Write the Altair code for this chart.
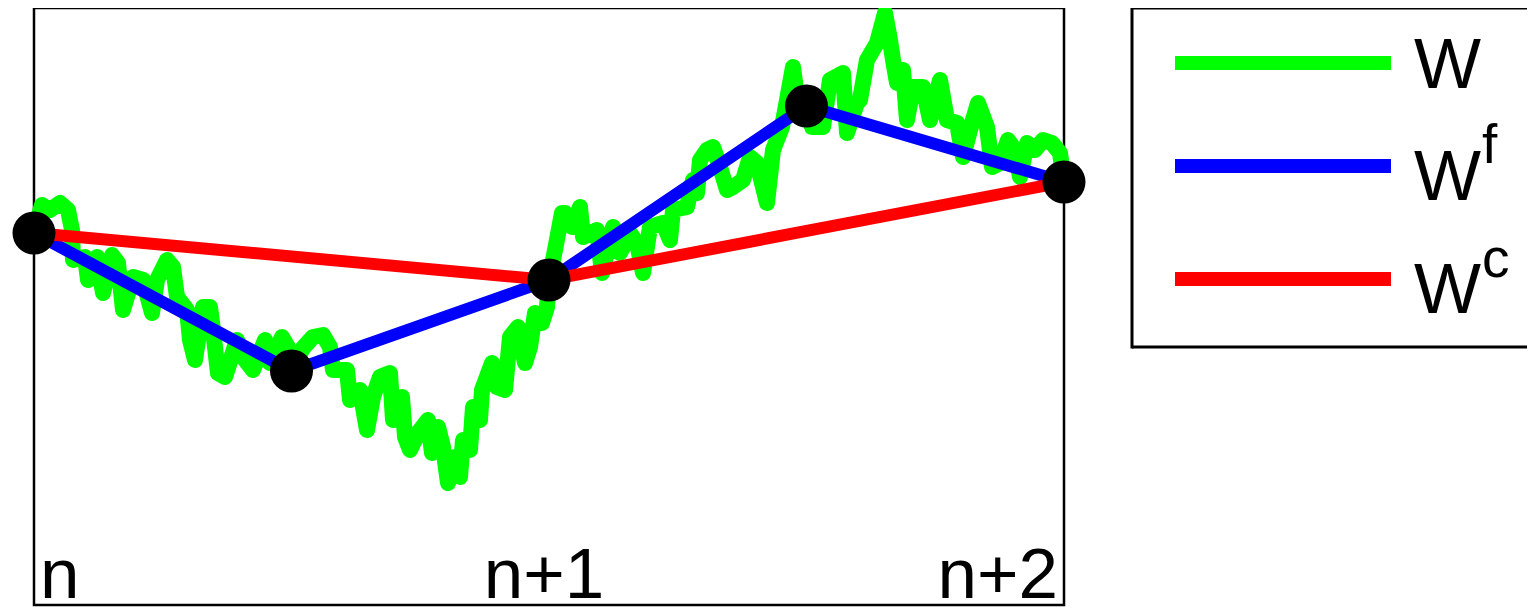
import altair as alt
import pandas as pd

# ---------------- data ----------------
# fine time grid (515 steps per unit interval: n -> 0, n+1 -> 515, n+2 -> 1030)
w_t = [0, 8, 16, 26, 34, 38, 39, 51, 54, 63, 69, 78, 84, 89, 99, 109, 118, 123, 133, 139,
       143, 153, 156, 161, 169, 176, 179, 184, 191, 203, 209, 219, 231, 236, 248, 254, 257.5, 269, 279, 289,
       296, 299, 313, 316, 326, 333, 339, 346, 356, 359, 368, 371, 376, 384, 394, 398, 404, 409, 414, 421,
       426, 429, 436, 439, 446, 448, 458, 463, 471, 476, 484, 491, 496, 501, 508, 513, 515, 521, 528, 531,
       538, 546, 549, 563, 568, 579, 586, 596, 603, 609, 616, 629, 636, 639, 653, 659, 663, 666, 673, 679,
       686, 693, 699, 709, 716, 723, 733, 739, 748, 753, 759, 763, 772.5, 778, 783, 789, 796, 809, 813, 823,
       826, 833, 843, 851, 856, 859, 863, 869, 873, 879, 889, 896, 906, 913, 923, 929, 936, 944, 953, 958,
       966, 974, 981, 986, 993, 1001, 1009, 1018, 1026, 1030]
# Brownian path W
w_val = [0.00, 0.28, 0.23, 0.30, 0.23, 0.03, -0.27, -0.24, -0.47, -0.24, -0.60, -0.22, -0.30, -0.77, -0.44, -0.47, -0.80, -0.47, -0.27, -0.34,
         -0.64, -0.77, -1.07, -1.27, -0.74, -0.74, -0.97, -1.40, -1.44, -1.07, -1.24, -1.37, -1.07, -1.30, -1.04, -1.14, -1.38, -1.15, -1.04, -1.02,
         -1.14, -1.37, -1.37, -1.67, -1.57, -1.97, -1.64, -1.44, -1.40, -1.87, -1.64, -2.04, -2.17, -2.00, -1.87, -2.20, -1.94, -2.14, -2.50, -2.24,
         -2.44, -2.07, -2.17, -1.74, -1.87, -1.57, -1.30, -1.54, -1.57, -1.04, -0.94, -1.30, -1.14, -0.80, -0.90, -0.74, -0.47, -0.17, 0.20, 0.20,
         0.06, 0.26, -0.04, 0.03, -0.40, 0.06, -0.20, 0.00, -0.10, -0.40, 0.06, 0.10, -0.07, 0.23, 0.26, 0.53, 0.40, 0.73, 0.83, 0.86,
         0.66, 0.43, 0.46, 0.53, 0.76, 0.70, 0.30, 0.83, 1.06, 1.33, 1.66, 1.36, 1.27, 1.06, 1.06, 1.06, 1.53, 1.60, 1.00, 1.30,
         1.33, 1.73, 1.90, 2.20, 1.93, 1.73, 1.50, 1.63, 1.13, 1.46, 1.46, 1.13, 1.53, 1.13, 1.10, 0.76, 1.03, 1.30, 1.06, 0.66,
         0.70, 0.93, 0.83, 0.56, 0.90, 0.83, 0.93, 0.90, 0.80, 0.51]

# fine piecewise-linear interpolant Wf (sample points, also the black dots)
fine_t = [0, 257.5, 515, 772.5, 1030]
fine_w = [0.00, -1.38, -0.47, 1.27, 0.51]
# coarse piecewise-linear interpolant Wc
coarse_t = [0, 515, 1030]
coarse_w = [0.00, -0.47, 0.51]

tick_pos = [0, 515, 1030]
tick_labels = ["n", "n+1", "n+2"]

legend_base = ["W", "W", "W"]
legend_sup = ["", "f", "c"]
legend_colors = ["#00ff00", "#0000ff", "#ff0000"]

# ---------------- tables ----------------
df_w = pd.DataFrame({"t": w_t, "w": w_val, "i": list(range(len(w_t)))})
df_f = pd.DataFrame({"t": fine_t, "w": fine_w})
df_c = pd.DataFrame({"t": coarse_t, "w": coarse_w})
df_one = pd.DataFrame({"a": [0]})

FONT = "Liberation Sans"
xs = alt.Scale(domain=[0, 1030], nice=False, zero=False)
ys = alt.Scale(domain=[-3.72, 2.25], nice=False, zero=False)
X = alt.X("t:Q", scale=xs, axis=None)
Y = alt.Y("w:Q", scale=ys, axis=None)

green = alt.Chart(df_w).mark_line(color="#00ff00", strokeWidth=16, strokeCap="round",
                                  strokeJoin="round").encode(x=X, y=Y, order="i:Q")
blue = alt.Chart(df_f).mark_line(color="#0000ff", strokeWidth=12).encode(x=X, y=Y)
red = alt.Chart(df_c).mark_line(color="#ff0000", strokeWidth=12).encode(x=X, y=Y)
dots = alt.Chart(df_f).mark_circle(color="black", opacity=1, size=1850).encode(x=X, y=Y)

layers = [green, blue, red, dots]

# tick labels drawn inside the frame
tick_style = [("left", 6), ("center", -5), ("right", -6)]
for pos, lab, (al, dx) in zip(tick_pos, tick_labels, tick_style):
    d = pd.DataFrame({"t": [pos], "lab": [lab]})
    layers.append(
        alt.Chart(d).mark_text(font=FONT, fontSize=71, align=al, baseline="alphabetic",
                               dx=dx, color="black").encode(
            x=alt.X("t:Q", scale=xs, axis=None), y=alt.value(590), text="lab:N")
    )

# legend box (open on the right, as in the reference)
box_l, box_r, box_t, box_b = 1098, 1501, 0, 339
layers.append(alt.Chart(df_one).mark_rule(color="black", strokeWidth=3).encode(
    x=alt.value(box_l), x2=alt.value(box_r), y=alt.value(box_t)))
layers.append(alt.Chart(df_one).mark_rule(color="black", strokeWidth=3).encode(
    x=alt.value(box_l), x2=alt.value(box_r), y=alt.value(box_b)))
layers.append(alt.Chart(df_one).mark_rule(color="black", strokeWidth=3).encode(
    x=alt.value(box_l), y=alt.value(box_t - 1.5), y2=alt.value(box_b + 1.5)))

row_line_y = [55, 158, 271]
row_base_y = [80, 192, 305]
row_sup_y = [0, 155, 269]
for k in range(3):
    layers.append(alt.Chart(df_one).mark_rule(color=legend_colors[k], strokeWidth=14).encode(
        x=alt.value(1141), x2=alt.value(1357), y=alt.value(row_line_y[k])))
    layers.append(alt.Chart(df_one).mark_text(font=FONT, fontSize=71, align="left",
                                              baseline="alphabetic", color="black",
                                              text=legend_base[k]).encode(
        x=alt.value(1380), y=alt.value(row_base_y[k])))
    if legend_sup[k]:
        layers.append(alt.Chart(df_one).mark_text(font=FONT, fontSize=55, align="left",
                                                  baseline="alphabetic", color="black",
                                                  text=legend_sup[k]).encode(
            x=alt.value(1448), y=alt.value(row_sup_y[k])))

chart = alt.layer(*layers).properties(
    width=1030, height=597,
    padding={"left": 26, "top": 0, "right": 463, "bottom": 2},
    autosize=alt.AutoSizeParams(type="none"),
).configure_view(stroke="black", strokeWidth=2.5)

chart.save("out.html", embed_options={"renderer": "svg", "actions": False})
